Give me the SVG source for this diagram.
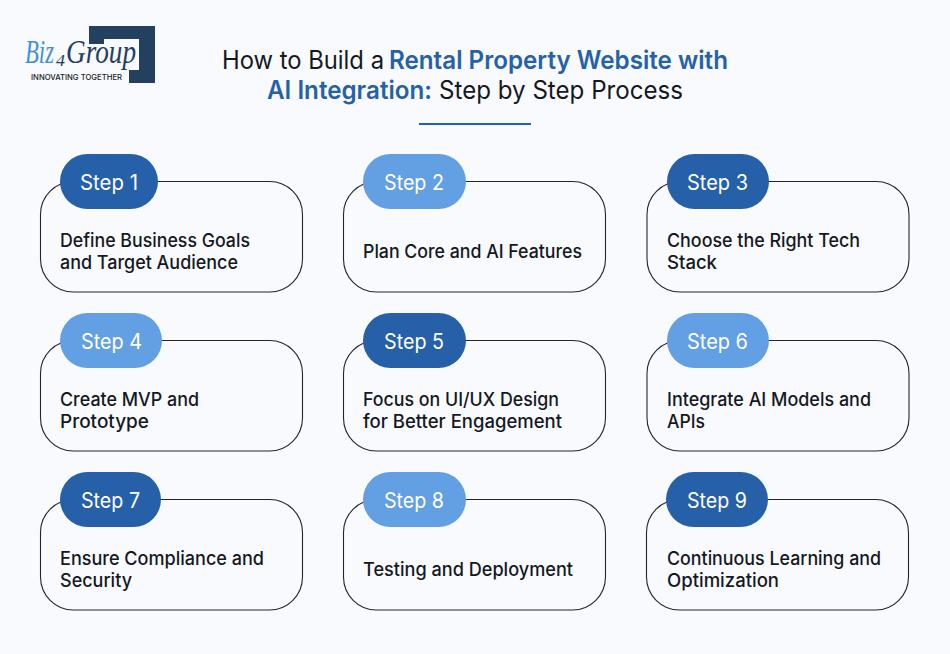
<svg xmlns="http://www.w3.org/2000/svg" width="950" height="654" viewBox="0 0 950 654">
<style>
text{font-family:Inter,"Liberation Sans",sans-serif}
.t{font-size:25px;font-weight:400;fill:#15181f}
.h{font-weight:600;fill:#2661a8}
.card{fill:none;stroke:#23262c;stroke-width:1.1}
.d{fill:#2560a9}.l{fill:#629fe3}
.s{font-size:21px;fill:#fff}
.b{font-size:18.500px;font-weight:500;fill:#15181f}
.lg{font-family:"Liberation Serif",serif;font-style:italic;font-size:33px}
</style>
<rect width="950" height="654" fill="#f8fafd"/>
<g id="logo">
<path d="M89 26H155V83H129V70H139V39H104V44H89Z" fill="#23405f"/>
<text class="lg" x="25" y="63" textLength="29" lengthAdjust="spacingAndGlyphs" fill="#3f92d6">Biz</text>
<text x="56" y="66" textLength="9" lengthAdjust="spacingAndGlyphs" style="font-family:'Liberation Serif',serif;font-style:italic;font-size:17px;fill:#23405f">4</text>
<text class="lg" x="66" y="63" textLength="70" lengthAdjust="spacingAndGlyphs" fill="#23405f">Group</text>
<text x="31" y="80" textLength="91" lengthAdjust="spacingAndGlyphs" style="font-size:8px;font-weight:500;fill:#222">INNOVATING TOGETHER</text>
</g>
<g id="title">
<text class="t" x="222" y="69" textLength="162" lengthAdjust="spacingAndGlyphs">How to Build a</text>
<text class="t h" x="389" y="69" textLength="339" lengthAdjust="spacingAndGlyphs">Rental Property Website with</text>
<text class="t h" x="267" y="99" textLength="165" lengthAdjust="spacingAndGlyphs">AI Integration:</text>
<text class="t" x="439" y="99" textLength="244" lengthAdjust="spacingAndGlyphs">Step by Step Process</text>
<rect x="419" y="123" width="112" height="2" fill="#2560a9"/>
</g>
<g id="connectors"></g>
<g id="step1"><rect class="card" x="40.500" y="181.500" width="262" height="110.500" rx="33"/><rect class="d" x="60" y="154" width="98" height="55" rx="27.500"/><text class="s" x="80" y="189.500" textLength="58" lengthAdjust="spacingAndGlyphs">Step 1</text><text class="b" x="60" y="247" textLength="190" lengthAdjust="spacingAndGlyphs">Define Business Goals</text><text class="b" x="60" y="269" textLength="178" lengthAdjust="spacingAndGlyphs">and Target Audience</text></g>
<g id="step2"><rect class="card" x="343.500" y="181.500" width="262" height="110.500" rx="33"/><rect class="l" x="363" y="154" width="103" height="55" rx="27.500"/><text class="s" x="384" y="189.500" textLength="60" lengthAdjust="spacingAndGlyphs">Step 2</text><text class="b" x="363" y="258" textLength="219" lengthAdjust="spacingAndGlyphs">Plan Core and AI Features</text></g>
<g id="step3"><rect class="card" x="647" y="181.500" width="262" height="110.500" rx="33"/><rect class="d" x="667" y="154" width="102" height="55" rx="27.500"/><text class="s" x="687" y="189.500" textLength="61" lengthAdjust="spacingAndGlyphs">Step 3</text><text class="b" x="667" y="247" textLength="193" lengthAdjust="spacingAndGlyphs">Choose the Right Tech</text><text class="b" x="667" y="269" textLength="50" lengthAdjust="spacingAndGlyphs">Stack</text></g>
<g id="step4"><rect class="card" x="40.500" y="340.500" width="262" height="110.500" rx="33"/><rect class="l" x="60" y="313" width="102" height="55" rx="27.500"/><text class="s" x="81" y="348.500" textLength="61" lengthAdjust="spacingAndGlyphs">Step 4</text><text class="b" x="60" y="406" textLength="139" lengthAdjust="spacingAndGlyphs">Create MVP and</text><text class="b" x="60" y="428" textLength="89" lengthAdjust="spacingAndGlyphs">Prototype</text></g>
<g id="step5"><rect class="card" x="343.500" y="340.500" width="262" height="110.500" rx="33"/><rect class="d" x="363" y="313" width="103" height="55" rx="27.500"/><text class="s" x="384" y="348.500" textLength="60" lengthAdjust="spacingAndGlyphs">Step 5</text><text class="b" x="363" y="406" textLength="196" lengthAdjust="spacingAndGlyphs">Focus on UI/UX Design</text><text class="b" x="363" y="428" textLength="199" lengthAdjust="spacingAndGlyphs">for Better Engagement</text></g>
<g id="step6"><rect class="card" x="647" y="340.500" width="262" height="110.500" rx="33"/><rect class="l" x="667" y="313" width="102" height="55" rx="27.500"/><text class="s" x="687" y="348.500" textLength="61" lengthAdjust="spacingAndGlyphs">Step 6</text><text class="b" x="667" y="406" textLength="204" lengthAdjust="spacingAndGlyphs">Integrate AI Models and</text><text class="b" x="667" y="428" textLength="38" lengthAdjust="spacingAndGlyphs">APIs</text></g>
<g id="step7"><rect class="card" x="40.500" y="499.500" width="262" height="110.500" rx="33"/><rect class="d" x="60" y="472" width="101" height="55" rx="27.500"/><text class="s" x="81" y="507.500" textLength="59" lengthAdjust="spacingAndGlyphs">Step 7</text><text class="b" x="60" y="565" textLength="204" lengthAdjust="spacingAndGlyphs">Ensure Compliance and</text><text class="b" x="60" y="587" textLength="72" lengthAdjust="spacingAndGlyphs">Security</text></g>
<g id="step8"><rect class="card" x="343.500" y="499.500" width="262" height="110.500" rx="33"/><rect class="l" x="363" y="472" width="103" height="55" rx="27.500"/><text class="s" x="384" y="507.500" textLength="60" lengthAdjust="spacingAndGlyphs">Step 8</text><text class="b" x="363" y="576" textLength="210" lengthAdjust="spacingAndGlyphs">Testing and Deployment</text></g>
<g id="step9"><rect class="card" x="646.500" y="499.500" width="262" height="110.500" rx="33"/><rect class="d" x="666" y="472" width="102" height="55" rx="27.500"/><text class="s" x="687" y="507.500" textLength="60" lengthAdjust="spacingAndGlyphs">Step 9</text><text class="b" x="667" y="565" textLength="214" lengthAdjust="spacingAndGlyphs">Continuous Learning and</text><text class="b" x="667" y="587" textLength="112" lengthAdjust="spacingAndGlyphs">Optimization</text></g>
</svg>
